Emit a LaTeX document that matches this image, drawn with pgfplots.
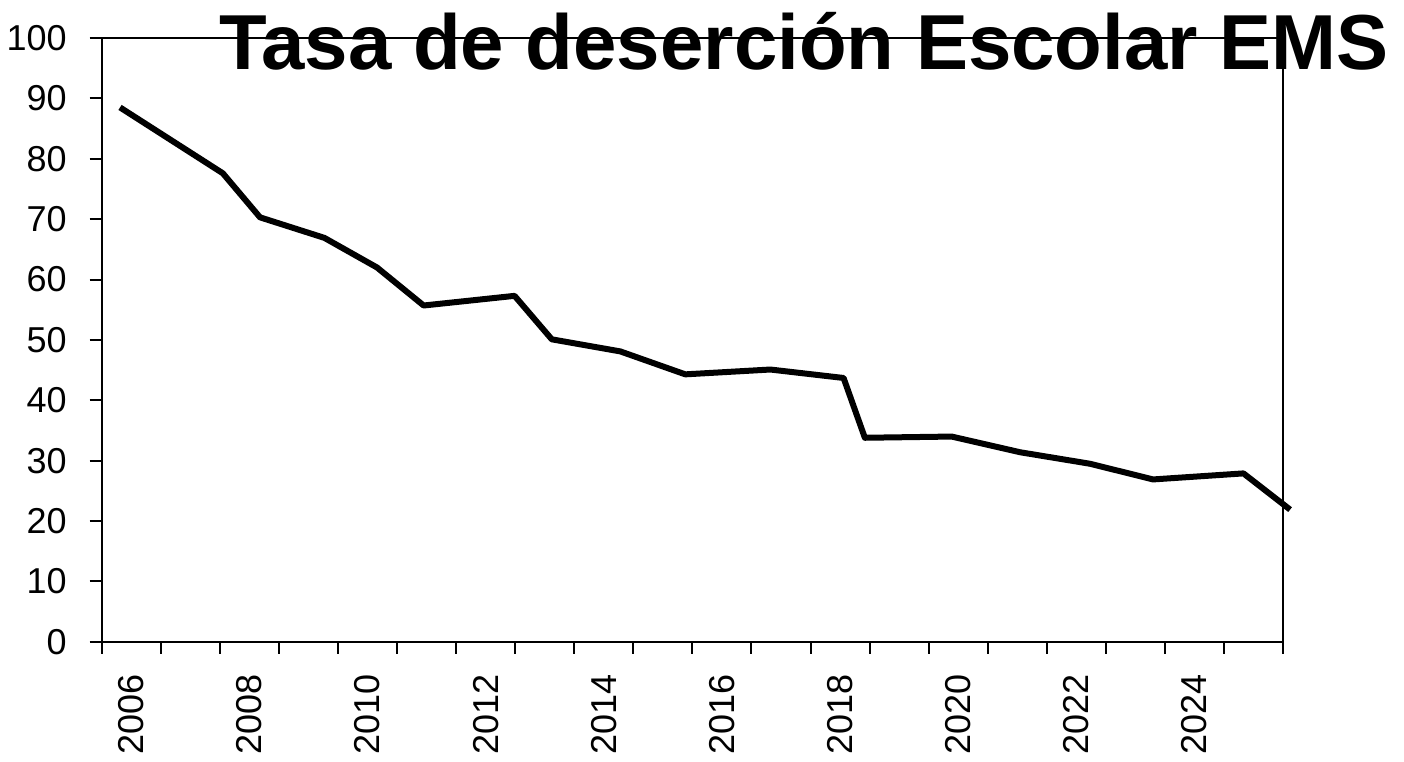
\documentclass[border=0pt]{standalone}
\usepackage{fontspec}
\setmainfont{Liberation Sans}
\usepackage{pgfplots}
\pgfplotsset{compat=1.18}
\begin{document}
\begin{tikzpicture}
  \begin{axis}[
      name=ax,
      width=590.75bp, height=302bp, scale only axis,
      xmin=0, xmax=20, ymin=0, ymax=100,
      axis line style={line width=1bp},
      xtick pos=left, ytick pos=left,
      tick align=outside,
      major tick length=6bp,
      every tick/.style={black, line width=1bp},
      xtick={0,1,...,20}, xticklabels={},
      extra x ticks={0.5,2.5,4.5,6.5,8.5,10.5,12.5,14.5,16.5,18.5},
      extra x tick labels={2006,2008,2010,2012,2014,2016,2018,2020,2022,2024},
      extra x tick style={major tick length=0pt,
        tick label style={rotate=90, anchor=east, xshift=-13bp}},
      ytick={0,10,...,100},
      yticklabel style={xshift=-8bp},
      /pgf/number format/assume math mode=true,
      tick label style={font=\fontsize{18bp}{21bp}\selectfont},
      clip=false,
    ]
    % Tasa de desercion por anio
    \addplot[black, line width=3bp, line join=round] coordinates {
      (0.31,88.5) (2.05,77.6) (2.68,70.3) (3.77,66.9) (4.66,62.0)
      (5.45,55.7) (6.99,57.3) (7.62,50.1) (8.78,48.1) (9.88,44.3)
      (11.32,45.1) (12.56,43.7) (12.92,33.8) (14.39,34.0) (15.55,31.4)
      (16.73,29.5) (17.80,26.9) (19.33,27.9) (20.12,21.9)
    };
  \end{axis}
  \node[anchor=base, font=\fontsize{39bp}{44bp}\selectfont\bfseries]
    at ([xshift=351.25bp,yshift=-16bp]ax.north west) {Tasa de deserción Escolar EMS};
  \path[use as bounding box] ([xshift=-50.75bp,yshift=-56.5bp]ax.south west)
    rectangle ([xshift=60.5bp,yshift=19bp]ax.north east);
\end{tikzpicture}
\end{document}
